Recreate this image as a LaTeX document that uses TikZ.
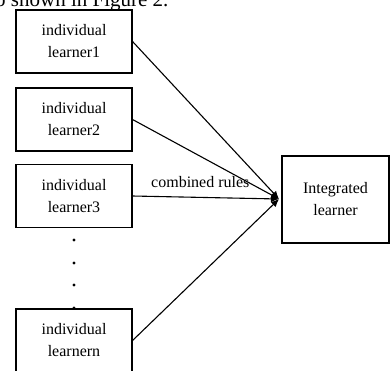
\documentclass[tikz,border=0pt]{standalone}
\usepackage{fontspec}
\setmainfont{Liberation Serif}
\usepackage{tikz}
\usetikzlibrary{positioning,arrows.meta,calc}

\begin{document}
\begin{tikzpicture}[
    x=1pt, y=-1pt,
    learner/.style={draw, line width=1.1pt, minimum width=116pt, minimum height=63pt, inner sep=0pt, align=center, font=\fontsize{16}{22}\selectfont},
    merged/.style={learner, minimum width=107pt, minimum height=87pt},
    arr/.style={-{Latex[length=8pt,width=7pt]}, line width=1.1pt},
    lbl/.style={font=\fontsize{16}{19}\selectfont, inner sep=0pt}
]
\clip (0,0) rectangle (390,370);
% Caption left from the page
\node[font=\fontsize{21}{24}\selectfont, anchor=base west, inner sep=0pt] (cap) at (-5,6) {o shown in Figure 2.};

% Individual learners
\node[learner] (l1) at (74,41.5) {individual\\learner1};
\node[learner] (l2) at (74,119.5) {individual\\learner2};
\node[learner] (l3) at (74,196) {individual\\learner3};
\node[learner] (ln) at (74,340.5) {individual\\learnern};

% Vertical dots
\foreach \y in {240,263,285,308}
    \fill (74,\y) circle (1.6pt);

% Integrated learner
\node[merged] (il) at (335.5,199.5) {Integrated\\learner};
\coordinate (hub) at (279,199);

\draw[arr] (l1.east) -- (hub);
\draw[arr] (l2.east) -- (hub);
\draw[arr] (l3.east) -- (hub);
\draw[arr] (ln.east) -- (hub);

\node[lbl, anchor=base west] (rules) at (151,187) {combined rules};
\end{tikzpicture}
\end{document}
